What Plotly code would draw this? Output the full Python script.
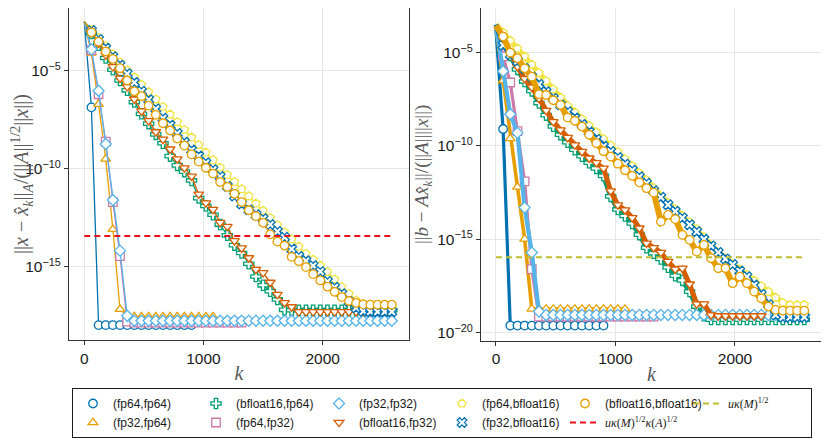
import plotly.graph_objects as go

# iteration index of the sampled points (every 60 iterations)
K_STEP = 60

# ---- left panel: log10 of ||x - x_k||_A / (||A||^1/2 ||x||) ----
left_fp64_fp64 = [-2.5, -6.87, -17.98, -17.98, -17.98, -17.98, -17.98, -17.98, -17.98, -17.98,
                  -17.98, -17.98, -17.98, -17.98, -17.98, -17.98]
left_fp32_fp64 = [-2.5, -4.1, -6.71, -9.5, -13.09, -17.17, -17.55, -17.55, -17.55, -17.55,
                  -17.55, -17.55, -17.55, -17.55, -17.55, -17.55, -17.55, -17.55, -17.55]
left_bf16_fp64 = [-2.5, -3.1, -3.7, -4.35, -4.95, -5.5, -6.0, -6.6, -7.2, -7.7,
                  -8.25, -8.7, -9.36, -9.83, -10.15, -10.6, -11.5, -11.9, -12.35, -12.85,
                  -13.4, -13.9, -14.3, -14.85, -15.5, -15.95, -16.25, -16.67, -17.2, -17.22,
                  -17.22, -17.22, -17.22, -17.22, -17.22, -17.22, -17.22, -17.22, -17.22, -17.22,
                  -17.22, -17.22, -17.22, -17.22]
left_fp64_fp32 = [-2.5, -3.95, -6.2, -8.62, -11.7, -14.46, -17.8, -17.85, -17.85, -17.85,
                  -17.85, -17.85, -17.85, -17.85, -17.85, -17.85, -17.85, -17.85, -17.85, -17.85,
                  -17.85, -17.85, -17.85]
left_fp32_fp32 = [-2.5, -3.91, -6.02, -8.74, -11.6, -14.18, -17.5, -17.76, -17.76, -17.76,
                  -17.76, -17.76, -17.76, -17.76, -17.76, -17.76, -17.76, -17.76, -17.76, -17.76,
                  -17.76, -17.76, -17.76, -17.76, -17.76, -17.76, -17.76, -17.76, -17.76, -17.76,
                  -17.76, -17.76, -17.76, -17.76, -17.76, -17.76, -17.76, -17.76, -17.76, -17.76,
                  -17.76, -17.76, -17.76, -17.76]
left_bf16_fp32 = [-2.5, -3.05, -3.6, -4.2, -4.8, -5.38, -5.82, -6.45, -7.06, -7.55,
                  -8.12, -8.5, -9.0, -9.5, -9.96, -10.38, -11.3, -11.75, -12.08, -12.75,
                  -12.95, -13.68, -14.05, -14.55, -15.14, -15.31, -15.8, -16.42, -16.84, -17.05,
                  -17.3, -17.3, -17.3, -17.3, -17.3, -17.3, -17.3, -17.3, -17.3, -17.3, -17.3]
left_fp64_bf16 = [-2.5, -2.91, -3.32, -3.74, -4.15, -4.57, -4.98, -5.33, -5.71, -6.08,
                  -6.46, -6.84, -7.23, -7.62, -8.01, -8.4, -8.78, -9.17, -9.56, -9.94,
                  -10.31, -10.67, -11.04, -11.4, -11.77, -12.14, -12.5, -12.87, -13.24, -13.6,
                  -13.97, -14.34, -14.64, -14.94, -15.26, -15.64, -16.02, -16.38, -16.71, -16.91,
                  -17.1, -17.15, -17.15, -17.15]
left_fp32_bf16 = [-2.5, -2.95, -3.4, -3.85, -4.28, -4.72, -5.15, -5.6, -6.05, -6.48,
                  -6.95, -7.43, -7.78, -8.2, -8.65, -9.05, -9.35, -9.7, -10.05, -10.4,
                  -10.9, -11.4, -11.8, -12.1, -12.35, -12.55, -12.85, -13.2, -13.5, -14.1,
                  -14.48, -14.7, -14.95, -15.25, -15.75, -16.05, -16.38, -16.78, -17.1, -17.28,
                  -17.3, -17.3, -17.3, -17.3]
left_bf16_bf16 = [-2.5, -3.04, -3.52, -4.02, -4.4, -4.87, -5.5, -6.05, -6.3, -6.78,
                  -7.25, -7.68, -8.05, -8.46, -8.82, -9.27, -9.64, -9.95, -10.25, -10.68,
                  -10.93, -11.28, -11.7, -12.12, -12.42, -12.76, -13.35, -13.72, -13.92, -14.5,
                  -14.72, -15.02, -15.38, -15.7, -16.02, -16.28, -16.55, -16.75, -16.85, -16.92,
                  -16.94, -16.94, -16.94, -16.94]

# ---- right panel: log10 of ||b - A x_k|| / (||A|| ||x||) ----
right_fp64_fp64 = [-3.8, -9.09, -19.62, -19.62, -19.62, -19.62, -19.62, -19.62, -19.62, -19.62,
                   -19.62, -19.62, -19.62, -19.62, -19.62, -19.62]
right_fp32_fp64 = [-3.6, -6.5, -9.6, -12.2, -14.98, -18.73, -18.73, -18.73, -18.73, -18.73,
                   -18.73, -18.73, -18.73, -18.73, -18.73, -18.73, -18.73, -18.73, -18.73]
right_bf16_fp64 = [-3.6, -4.4, -5.15, -5.9, -6.55, -7.05, -7.7, -8.35, -8.95, -9.4,
                   -9.8, -10.2, -10.55, -10.9, -11.2, -11.6, -12.7, -13.4, -13.75, -14.15,
                   -14.75, -15.45, -15.75, -16.05, -16.5, -16.95, -17.2, -17.8, -18.6, -19.1,
                   -19.3, -19.3, -19.3, -19.3, -19.3, -19.3, -19.3, -19.3, -19.3, -19.3,
                   -19.3, -19.3, -19.3, -19.3]
right_fp64_fp32 = [-3.6, -5.2, -6.6, -9.2, -11.9, -16.6, -19.14, -19.14, -19.14, -19.14,
                   -19.14, -19.14, -19.14, -19.14, -19.14, -19.14, -19.14, -19.14, -19.14, -19.14,
                   -19.14, -19.14, -19.14]
right_fp32_fp32 = [-3.6, -6.0, -8.3, -9.3, -13.3, -15.71, -18.87, -19.05, -19.05, -19.05,
                   -19.05, -19.05, -19.05, -19.05, -19.05, -19.05, -19.05, -19.05, -19.05, -19.05,
                   -19.05, -19.05, -19.05, -19.05, -19.05, -19.05, -19.05, -19.05, -19.05, -19.05,
                   -19.05, -19.05, -19.05, -19.05, -19.05, -19.05, -19.05, -19.05, -19.05, -19.05,
                   -19.05, -19.05, -19.05, -19.05]
right_bf16_fp32 = [-3.55, -4.3, -5.0, -5.75, -6.4, -6.85, -7.45, -8.1, -8.7, -9.14,
                   -9.55, -9.95, -10.3, -10.65, -10.9, -11.19, -12.41, -13.16, -13.43, -13.84,
                   -14.4, -15.21, -15.45, -15.71, -16.19, -16.6, -16.55, -17.4, -18.46, -18.46,
                   -19.05, -19.1, -19.1, -19.1, -19.1, -19.1, -19.1, -19.1]
right_fp64_bf16 = [-3.5, -3.92, -4.35, -4.78, -5.2, -5.64, -6.08, -6.52, -6.96, -7.4,
                   -7.85, -8.2, -8.56, -8.91, -9.26, -9.61, -9.96, -10.31, -10.7, -11.08,
                   -11.45, -11.82, -12.25, -12.72, -13.04, -13.38, -13.74, -14.09, -14.45, -14.88,
                   -15.32, -15.72, -16.02, -16.31, -16.61, -16.9, -17.2, -17.5, -17.8, -18.12,
                   -18.4, -18.51, -18.51, -18.51]
right_fp32_bf16 = [-3.5, -4.6, -5.1, -5.45, -5.85, -6.3, -6.7, -7.1, -7.45, -7.8,
                   -8.17, -8.5, -8.85, -9.25, -9.65, -10.02, -10.3, -10.62, -10.98, -11.3,
                   -11.65, -12.0, -12.4, -12.75, -13.15, -13.5, -13.85, -14.22, -14.59, -15.0,
                   -15.35, -15.7, -16.05, -16.35, -16.7, -17.0, -17.45, -17.95, -18.5, -19.05,
                   -19.17, -19.17, -19.17, -19.17]
right_bf16_bf16 = [-3.55, -4.14, -5.0, -5.3, -5.84, -6.29, -7.23, -7.27, -7.55, -7.8,
                   -8.48, -8.65, -8.96, -9.4, -9.85, -10.28, -10.57, -10.95, -11.3, -11.6,
                   -11.95, -12.26, -12.5, -14.05, -13.69, -13.92, -14.76, -15.03, -15.66, -15.3,
                   -16.01, -16.55, -16.55, -17.35, -17.0, -17.35, -17.8, -18.16, -18.6, -18.78,
                   -18.82, -18.82, -18.82, -18.82]

# reference levels
bound_kappa_A = 3.7e-14   # u kappa(M)^1/2 kappa(A)^1/2 (left)
bound_kappa = 1.1e-16     # u kappa(M)^1/2 (right)
bound_k = [0, 2580]

BLUE, ORANGE, GREEN, PINK = "#0072B2", "#E69F00", "#009E73", "#CC79A7"
SKY, VERMIL, YELLOW = "#56B4E9", "#D55E00", "#F0E442"

# name, colour, symbol, left data, right data, legend rank, right line width
series = [
    ("(fp64,fp64)", BLUE, "circle", left_fp64_fp64, right_fp64_fp64, 1, 3.2),
    ("(fp32,fp64)", ORANGE, "triangle-up", left_fp32_fp64, right_fp32_fp64, 7, 3.6),
    ("(bfloat16,fp64)", GREEN, "cross", left_bf16_fp64, right_bf16_fp64, 2, 5),
    ("(fp64,fp32)", PINK, "square", left_fp64_fp32, right_fp64_fp32, 8, 3.2),
    ("(fp32,fp32)", SKY, "diamond", left_fp32_fp32, right_fp32_fp32, 3, 4.2),
    ("(bfloat16,fp32)", VERMIL, "triangle-down", left_bf16_fp32, right_bf16_fp32, 9, 5),
    ("(fp64,bfloat16)", YELLOW, "pentagon", left_fp64_bf16, right_fp64_bf16, 4, 5.5),
    ("(fp32,bfloat16)", BLUE, "x", left_fp32_bf16, right_fp32_bf16, 10, 5),
    ("(bfloat16,bfloat16)", ORANGE, "circle", left_bf16_bf16, right_bf16_bf16, 5, 6),
]

fig = go.Figure()

for name, col, sym, ldata, rdata, rank, rw in series:
    for data, xa, ya, lw, first in [(ldata, "x", "y", 1.3, True), (rdata, "x2", "y2", rw, False)]:
        k = [K_STEP * i for i in range(len(data))]
        v = [10 ** e for e in data]
        fig.add_trace(go.Scatter(x=k, y=v, mode="lines", line=dict(color=col, width=lw),
                                 xaxis=xa, yaxis=ya, showlegend=False, hoverinfo="skip"))
        # markers are not drawn on the starting point
        fig.add_trace(go.Scatter(x=k[1:], y=v[1:], mode="markers", name=name,
                                 marker=dict(symbol=sym, size=8.5, color="white",
                                             line=dict(color=col, width=1.3)),
                                 xaxis=xa, yaxis=ya, showlegend=first, legendrank=rank * 10))

serif = "font-family:Liberation Serif"
fig.add_trace(go.Scatter(
    x=bound_k, y=[bound_kappa_A] * 2, mode="lines", xaxis="x", yaxis="y",
    line=dict(color="#E8101A", width=2, dash="6px,4px"), legendrank=110,
    name=f'<span style="{serif}"><i>uκ</i>(<i>M</i>)<sup>1/2</sup><i>κ</i>(<i>A</i>)<sup>1/2</sup></span>'))
fig.add_trace(go.Scatter(
    x=bound_k, y=[bound_kappa] * 2, mode="lines", xaxis="x2", yaxis="y2",
    line=dict(color="#BDBD2E", width=2, dash="6px,4px"), legendrank=60,
    name=f'<span style="{serif}"><i>uκ</i>(<i>M</i>)<sup>1/2</sup></span>'))

# the page body has an 8px margin, so the figure starts at (8, 8) in the window
OFF = 8
W, H = 829 - OFF, 441 - OFF


def px(x):
    return (x - OFF) / W


def py(y):
    return 1 - (y - OFF) / H


tickfont = dict(family="Liberation Sans", size=15.5, color="#1a1a1a")
common_x = dict(tickvals=[0, 1000, 2000], ticks="outside", ticklen=4, tickcolor="#333",
                showline=True, mirror=True, linecolor="#333", linewidth=1.2,
                showgrid=True, gridcolor="#e6e6e6", zeroline=False, tickfont=tickfont,
                title=dict(text="<i>k</i>", font=dict(family="Liberation Serif", size=20, color="#5a5a5a"),
                           standoff=0))
common_y = dict(type="log", ticks="outside", ticklen=4, tickcolor="#333",
                showline=True, mirror=True, linecolor="#333", linewidth=1.2,
                showgrid=True, gridcolor="#e6e6e6", zeroline=False, tickfont=tickfont)

# the plot tops sit at y=5 in the window; clip the 3px above the figure start
fig.update_layout(
    width=W, height=H, margin=dict(l=0, r=0, t=0, b=0),
    paper_bgcolor="white", plot_bgcolor="white",
    xaxis=dict(domain=[px(69), px(409)], range=[-128, 2724], anchor="y", **common_x),
    yaxis=dict(domain=[py(340), py(8)], range=[-18.74, -1.80], anchor="x",
               tickvals=[1e-5, 1e-10, 1e-15],
               ticktext=["10<sup>−5</sup>", "10<sup>−10</sup>", "10<sup>−15</sup>"],
               title=dict(text="||<i>x</i> − <i>x̂</i><sub><i>k</i></sub>||<sub><i>A</i></sub>"
                               "/(||<i>A</i>||<sup>1/2</sup>||<i>x</i>||)",
                          font=dict(family="Liberation Serif", size=20, color="#5a5a5a"), standoff=2),
               **common_y),
    xaxis2=dict(domain=[px(481), px(822)], range=[-125, 2728], anchor="y2", **common_x),
    yaxis2=dict(domain=[py(340.7), py(8)], range=[-20.43, -2.61], anchor="x2",
                tickvals=[1e-5, 1e-10, 1e-15, 1e-20],
                ticktext=["10<sup>−5</sup>", "10<sup>−10</sup>", "10<sup>−15</sup>", "10<sup>−20</sup>"],
                title=dict(text="||<i>b</i> − <i>Ax̂</i><sub><i>k</i></sub>||/(||<i>A</i>||||<i>x</i>||)",
                           font=dict(family="Liberation Serif", size=19, color="#5a5a5a"), standoff=3),
                **common_y),
    legend=dict(orientation="h", x=px(442), xanchor="center", y=py(388), yanchor="top",
                entrywidth=78, itemwidth=30, traceorder="normal",
                bordercolor="#1a1a1a", borderwidth=1, bgcolor="white",
                font=dict(family="Liberation Sans", size=12, color="#1a1a1a")),
)

fig.write_html("out.html")
